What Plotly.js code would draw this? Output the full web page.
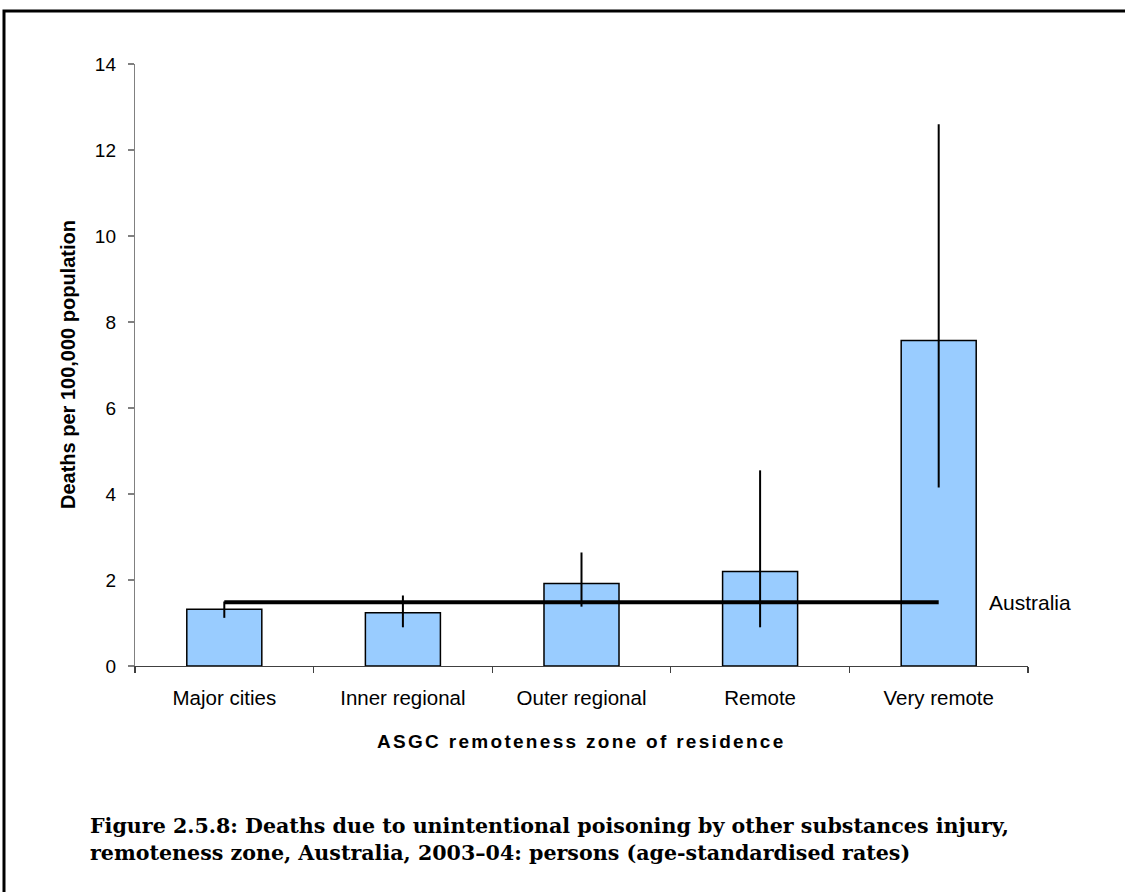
<!DOCTYPE html>
<html>
<head>
<meta charset="utf-8">
<script src="https://cdn.plot.ly/plotly-3.0.1.min.js"></script>
<style>html,body{margin:0;padding:0;background:#fff;}#chart{width:1125px;height:892px;}</style>
</head>
<body>
<div id="chart"></div>
<script>
const categories = ["Major cities", "Inner regional", "Outer regional", "Remote", "Very remote"];
const rates = [1.32, 1.24, 1.92, 2.20, 7.57];
const ciUpper = [1.50, 1.64, 2.64, 4.55, 12.60];
const ciLower = [1.12, 0.90, 1.38, 0.90, 4.15];
const australiaRate = 1.48;
const yTicks = [0, 2, 4, 6, 8, 10, 12, 14];

const errPlus = rates.map((v, i) => ciUpper[i] - v);
const errMinus = rates.map((v, i) => v - ciLower[i]);

const sans = 'Liberation Sans, Arial, sans-serif';

const bars = {
  type: 'bar',
  x: categories,
  y: rates,
  width: 0.42,
  marker: {color: '#99CCFF', line: {color: '#000000', width: 1.5}},
  error_y: {type: 'data', symmetric: false, array: errPlus, arrayminus: errMinus,
            color: '#000000', thickness: 2, width: 0},
  hoverinfo: 'x+y',
  showlegend: false
};

const ausLine = {
  type: 'scatter',
  mode: 'lines',
  x: [categories[0], categories[categories.length - 1]],
  y: [australiaRate, australiaRate],
  line: {color: '#000000', width: 4},
  showlegend: false,
  hoverinfo: 'y'
};

const layout = {
  width: 1125,
  height: 892,
  autosize: false,
  margin: {l: 135, r: 97, t: 64, b: 226},
  paper_bgcolor: '#ffffff',
  plot_bgcolor: '#ffffff',
  font: {family: sans, size: 19, color: '#000'},
  xaxis: {
    type: 'category',
    range: [-0.5, 4.5],
    showline: true, linecolor: '#404040', linewidth: 1.2,
    ticks: 'outside', ticklen: 6, tickcolor: '#404040', tickwidth: 1.2,
    tickson: 'boundaries',
    ticklabelstandoff: 13,
    showgrid: false, zeroline: false,
    tickfont: {family: sans, size: 20.5, color: '#000'},
    fixedrange: true
  },
  yaxis: {
    range: [0, 14],
    tickvals: yTicks,
    ticktext: yTicks.map(String),
    showline: true, linecolor: '#808080', linewidth: 1.2,
    ticks: 'outside', ticklen: 6, tickcolor: '#808080', tickwidth: 1.2,
    ticklabelstandoff: 8,
    showgrid: false, zeroline: false,
    tickfont: {family: sans, size: 19, color: '#000'},
    fixedrange: true
  },
  shapes: [{
    type: 'rect', xref: 'paper', yref: 'paper',
    x0: -0.1467, x1: 1.25, y0: -0.5, y1: 1.088,
    line: {color: '#000000', width: 3}, fillcolor: 'rgba(0,0,0,0)', layer: 'above'
  }],
  annotations: [
    {text: 'Australia', xref: 'x', yref: 'y', x: 4.27, y: australiaRate,
     xanchor: 'left', yanchor: 'middle', showarrow: false,
     font: {family: sans, size: 21, color: '#000'}},
    {text: '<b>Deaths per 100,000 population</b>', xref: 'paper', yref: 'paper',
     x: -0.075, y: 0.5, textangle: -90, xanchor: 'center', yanchor: 'middle', showarrow: false,
     font: {family: sans, size: 20, color: '#000'}},
    {text: '<b>ASGC remoteness zone of residence</b>', xref: 'paper', yref: 'paper',
     x: 0.5, y: -0.125, xanchor: 'center', yanchor: 'middle', showarrow: false,
     font: {family: sans, size: 19, color: '#000'}},
    {text: '<b>Figure 2.5.8: Deaths due to unintentional poisoning by other substances injury,</b>',
     xref: 'paper', yref: 'paper', x: -0.0526, y: -0.266, xanchor: 'left', yanchor: 'middle', showarrow: false,
     font: {family: 'DejaVu Serif, serif', size: 20.6, color: '#000'}},
    {text: '<b>remoteness zone, Australia, 2003–04: persons (age-standardised rates)</b>',
     xref: 'paper', yref: 'paper', x: -0.0526, y: -0.311, xanchor: 'left', yanchor: 'middle', showarrow: false,
     font: {family: 'DejaVu Serif, serif', size: 20.6, color: '#000'}}
  ]
};

Plotly.newPlot('chart', [bars, ausLine], layout, {displayModeBar: false, staticPlot: true}).then(function () {
  document.querySelectorAll('.annotation-text').forEach(function (el) {
    if (el.textContent.indexOf('ASGC') === 0) {
      el.style.letterSpacing = '2.3px';
    }
  });
});
</script>
</body>
</html>
